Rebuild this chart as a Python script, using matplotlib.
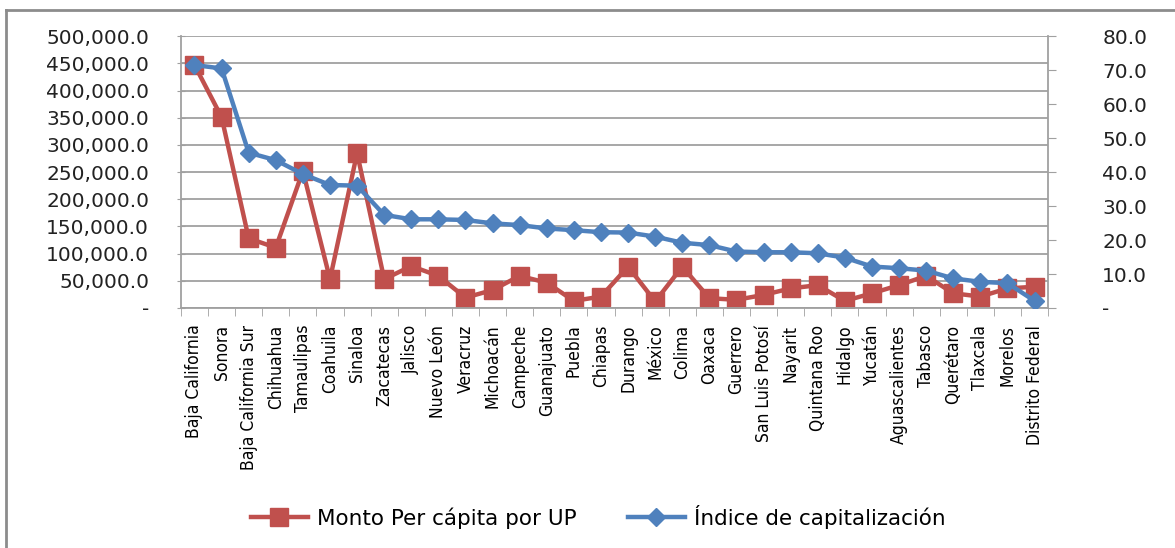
import numpy as np
import matplotlib.pyplot as plt
from matplotlib.lines import Line2D
from matplotlib.ticker import FuncFormatter, MultipleLocator

estados = ['Baja California', 'Sonora', 'Baja California Sur', 'Chihuahua', 'Tamaulipas',
           'Coahuila', 'Sinaloa', 'Zacatecas', 'Jalisco', 'Nuevo León', 'Veracruz',
           'Michoacán', 'Campeche', 'Guanajuato', 'Puebla', 'Chiapas', 'Durango', 'México',
           'Colima', 'Oaxaca', 'Guerrero', 'San Luis Potosí', 'Nayarit', 'Quintana Roo',
           'Hidalgo', 'Yucatán', 'Aguascalientes', 'Tabasco', 'Querétaro', 'Tlaxcala',
           'Morelos', 'Distrito Federal']

# Monto per cápita por UP (eje izquierdo)
monto = [447000, 351000, 128000, 111000, 252000, 53000, 285000, 53000, 77000, 59000,
         19000, 33000, 59000, 46500, 13000, 21000, 76000, 12000, 76000, 18000,
         15000, 24000, 36000, 42000, 13000, 27000, 42000, 59000, 27000, 21000,
         36000, 39000]

# Índice de capitalización (eje derecho)
indice = [71.5, 70.5, 45.7, 43.5, 39.4, 36.2, 36.0, 27.4, 26.1, 26.1,
          25.9, 24.9, 24.4, 23.4, 22.9, 22.3, 22.2, 21.0, 19.2, 18.5,
          16.6, 16.4, 16.4, 16.1, 14.8, 12.2, 11.7, 11.0, 8.7, 7.7,
          7.3, 2.1]

rojo = '#C0504D'
azul = '#4F81BD'
gris = '#A0A0A0'

fig = plt.figure(figsize=(11.75, 5.48), dpi=100)
ax = fig.add_axes([0.154, 0.438, 0.738, 0.496])
ax2 = ax.twinx()

x = np.arange(len(estados))
ax.plot(x, monto, color=rojo, lw=3.2, marker='s', ms=12.5, label='Monto Per cápita por UP')
ax2.plot(x, indice, color=azul, lw=3.2, marker='D', ms=9.5, label='Índice de capitalización')

ax.set_xlim(-0.5, len(estados) - 0.5)
ax.set_ylim(0, 500000)
ax2.set_ylim(0, 80)
ax.yaxis.set_major_locator(MultipleLocator(50000))
ax2.yaxis.set_major_locator(MultipleLocator(10))

fmt_l = FuncFormatter(lambda v, p: '-' if v == 0 else f'{v:,.1f}')
fmt_r = FuncFormatter(lambda v, p: '-' if v == 0 else f'{v:.1f}')
ax.yaxis.set_major_formatter(fmt_l)
ax2.yaxis.set_major_formatter(fmt_r)

ax.grid(axis='y', color=gris, lw=1.3)
ax.set_axisbelow(True)

ax.set_xticks(x)
ax.set_xticklabels(estados, rotation=90, fontsize=12.5, fontstretch='condensed', color='black')
ax.set_xticks(np.arange(-0.5, len(estados)), minor=True)
ax.tick_params(axis='x', which='major', length=0, pad=12)
ax.tick_params(axis='x', which='minor', length=6, color=gris, direction='out')
ax.tick_params(axis='y', labelsize=14.5, length=6, color=gris, direction='inout', pad=20,
               labelcolor='#222222')
ax2.tick_params(axis='y', labelsize=14.5, length=6, color=gris, direction='out', pad=33,
                labelcolor='#222222')

for a in (ax, ax2):
    for s in a.spines.values():
        s.set_visible(False)
ax.spines['left'].set_visible(True)
ax.spines['bottom'].set_visible(True)
ax2.spines['right'].set_visible(True)
for s in (ax.spines['left'], ax.spines['bottom'], ax2.spines['right']):
    s.set_color(gris)
    s.set_linewidth(1.3)

h1, l1 = ax.get_legend_handles_labels()
h2, l2 = ax2.get_legend_handles_labels()
fig.legend(h1 + h2, l1 + l2, loc='center', bbox_to_anchor=(0.509, 0.057), ncol=2,
           frameon=False, prop={'size': 15.5}, handlelength=2.65,
           columnspacing=2.4, handletextpad=0.4)

# marco del gráfico
fig.add_artist(Line2D([6 / 1175, 6 / 1175], [0, 1 - 10 / 548], transform=fig.transFigure,
                      color='#8C8C8C', lw=2))
fig.add_artist(Line2D([6 / 1175, 1], [1 - 10 / 548, 1 - 10 / 548], transform=fig.transFigure,
                      color='#8C8C8C', lw=2))

fig.savefig('out.png', dpi=100)
